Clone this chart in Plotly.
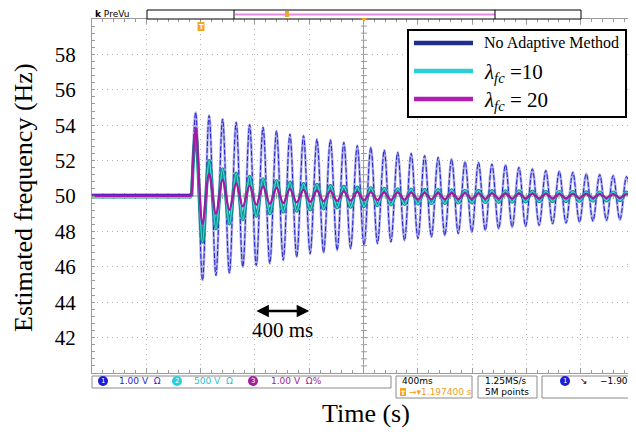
import plotly.graph_objects as go

# ---------------- data ----------------
pre_t = [0.0, 0.734]          # flat part before the disturbance (s)
step_t = 0.734                # instant of the frequency step (s)

# instants of successive extrema after the step (s): peak, trough, peak, ...
ext_t = [0.764, 0.814, 0.863, 0.913, 0.962, 1.012, 1.062, 1.111, 1.161, 1.210,
         1.260, 1.310, 1.359, 1.409, 1.458, 1.508, 1.558, 1.607, 1.657, 1.706,
         1.756, 1.806, 1.855, 1.905, 1.954, 2.004, 2.054, 2.103, 2.153, 2.202,
         2.252, 2.302, 2.351, 2.401, 2.450, 2.500, 2.550, 2.599, 2.649, 2.698,
         2.748, 2.798, 2.847, 2.897, 2.946, 2.996, 3.046, 3.095, 3.145, 3.194,
         3.244, 3.294, 3.343, 3.393, 3.442, 3.492, 3.542, 3.591, 3.641, 3.690,
         3.740, 3.790, 3.839, 3.889, 3.938, 3.988]

# No Adaptive Method (Hz)
blue_pre = 50.05
blue_peaks = [54.72, 54.54, 54.35, 54.16, 54.03, 53.88, 53.69, 53.50, 53.41, 53.22,
              53.17, 53.03, 52.85, 52.75, 52.60, 52.47, 52.41, 52.28, 52.19, 52.09,
              51.94, 51.90, 51.81, 51.76, 51.62, 51.53, 51.44, 51.40, 51.34, 51.25,
              51.21, 51.15, 51.10]
blue_troughs = [45.24, 45.52, 45.65, 45.99, 46.08, 46.18, 46.37, 46.55, 46.74, 46.80,
                46.93, 47.02, 47.21, 47.31, 47.40, 47.49, 47.60, 47.68, 47.77, 47.87,
                47.96, 48.06, 48.15, 48.24, 48.28, 48.34, 48.43, 48.47, 48.52, 48.58,
                48.62, 48.66, 48.72]

# lambda_fc = 10 (Hz)
cyan_pre = 49.96
cyan_peaks = [53.55, 52.00, 51.53, 51.29, 51.10, 50.97, 50.87, 50.78, 50.69, 50.65,
              50.58, 50.54, 50.50, 50.46, 50.42, 50.40, 50.38, 50.37, 50.35, 50.34,
              50.32, 50.31, 50.30, 50.29, 50.28, 50.27, 50.26, 50.25, 50.24, 50.23,
              50.22, 50.22, 50.21]
cyan_troughs = [47.40, 48.15, 48.43, 48.66, 48.85, 49.00, 49.09, 49.15, 49.22, 49.28,
                49.34, 49.37, 49.41, 49.46, 49.50, 49.53, 49.55, 49.57, 49.59, 49.61,
                49.62, 49.64, 49.65, 49.66, 49.67, 49.68, 49.69, 49.70, 49.71, 49.72,
                49.73, 49.74, 49.75]

# lambda_fc = 20 (Hz)
mag_pre = 50.02
mag_peaks = [53.85, 51.25, 50.91, 50.72, 50.59, 50.54, 50.46, 50.40, 50.35, 50.31,
             50.28, 50.26, 50.24, 50.22, 50.21, 50.20, 50.19, 50.18, 50.17, 50.17,
             50.16, 50.15, 50.15, 50.14, 50.14, 50.13, 50.13, 50.12, 50.12, 50.12,
             50.11, 50.11, 50.11]
mag_troughs = [48.43, 49.00, 49.22, 49.41, 49.50, 49.56, 49.60, 49.64, 49.67, 49.70,
               49.72, 49.74, 49.76, 49.77, 49.78, 49.79, 49.80, 49.81, 49.82, 49.83,
               49.83, 49.84, 49.85, 49.85, 49.86, 49.86, 49.87, 49.87, 49.88, 49.88,
               49.89, 49.89, 49.90]

y_ticks = [42, 44, 46, 48, 50, 52, 54, 56, 58]
legend_labels = ["No Adaptive Method",
                 "<i>λ</i><sub><i>fc</i></sub> =10",
                 "<i>λ</i><sub><i>fc</i></sub> = 20"]

# ---------------- helpers ----------------
PAGE_W, PAGE_H = 636, 432
OFF = 8                       # default page margin around the figure
L, R, T, B = 92, 635, 19, 373  # plot area in page pixels


def px(x):
    return (x - L) / (R - L)


def py(y):
    return (B - y) / (B - T)


def interleave(peaks, troughs):
    out = []
    for p, q in zip(peaks, troughs):
        out += [p, q]
    return out


SERIF = "Liberation Serif, Times New Roman, serif"
SANS = "DejaVu Sans, sans-serif"

fig = go.Figure()


def add_series(pre, peaks, troughs, styles):
    post_x = [step_t] + ext_t
    post_y = [pre] + interleave(peaks, troughs)
    for color, width, dash in styles:
        fig.add_trace(go.Scatter(x=pre_t, y=[pre, pre], mode="lines",
                                 line=dict(color=color, width=max(width, 2.5)),
                                 showlegend=False, hoverinfo="skip"))
        fig.add_trace(go.Scatter(x=post_x, y=post_y, mode="lines",
                                 line=dict(color=color, width=width, shape="spline",
                                           dash=dash),
                                 showlegend=False, hoverinfo="skip"))


add_series(blue_pre, blue_peaks, blue_troughs,
           [("#b0b0e6", 2.6, "solid"), ("#2020d0", 1.0, "5px,2px")])
add_series(cyan_pre, cyan_peaks, cyan_troughs,
           [("#0e8a8a", 3.4, "solid"), ("#3fd6dc", 1.5, "solid")])
add_series(mag_pre, mag_peaks, mag_troughs,
           [("#a517a5", 2.3, "solid")])

shapes = []
annots = []


def note(x, y, text, size, color="black", family=SANS, xanchor="left", angle=0):
    annots.append(dict(xref="paper", yref="paper", x=x, y=y, text=text, showarrow=False,
                       xanchor=xanchor, yanchor="middle", textangle=angle,
                       font=dict(family=family, size=size, color=color)))


# center crosshair
shapes.append(dict(type="line", xref="x", yref="paper", x0=2.0, x1=2.0, y0=0, y1=1,
                   line=dict(color="#9a9a9a", width=1), layer="below"))
shapes.append(dict(type="line", xref="paper", yref="y", x0=0, x1=1, y0=50, y1=50,
                   line=dict(color="#9a9a9a", width=1), layer="below"))
for i in range(1, 50):
    yv = 40 + 0.4 * i
    shapes.append(dict(type="line", xref="paper", yref="y", x0=px(361), x1=px(367),
                       y0=yv, y1=yv, line=dict(color="#9a9a9a", width=1), layer="below"))
for i in range(1, 50):
    xv = 0.08 * i
    shapes.append(dict(type="line", xref="x", yref="paper", x0=xv, x1=xv,
                       y0=py(199), y1=py(193), line=dict(color="#9a9a9a", width=1),
                       layer="below"))

# legend box
shapes.append(dict(type="rect", xref="paper", yref="paper", x0=px(408), x1=px(626),
                   y0=py(117), y1=py(30), line=dict(color="black", width=2),
                   fillcolor="white", layer="above"))
leg_colors = ["#1f2d8c", "#2ccfd6", "#b21cb2"]
leg_y = [43, 71, 99]
for c, yy in zip(leg_colors, leg_y):
    shapes.append(dict(type="line", xref="paper", yref="paper", x0=px(414), x1=px(473),
                       y0=py(yy), y1=py(yy), line=dict(color=c, width=4.5), layer="above"))
for yy, lab, fs in zip(leg_y, legend_labels, [16, 21, 21]):
    note(px(482), py(yy + (0 if fs == 16 else 2)), lab, fs, family=SERIF)

# 400 ms arrow and label
annots.append(dict(xref="x", yref="y", axref="x", ayref="y", x=1.6, y=43.5, ax=1.2, ay=43.5,
                   text="", showarrow=True, arrowhead=2, startarrowhead=2,
                   arrowside="end+start", arrowwidth=2.5, arrowsize=1, startarrowsize=1,
                   arrowcolor="black"))
annots.append(dict(xref="x", yref="y", x=1.405, y=42.45, text="400 ms", showarrow=False,
                   xanchor="center", yanchor="middle",
                   font=dict(family=SERIF, size=21, color="black")))

# axis titles
note(px(24), py(197), "Estimated frequency (Hz)", 26, family=SERIF, xanchor="center", angle=-90)
note(px(366), py(413), "Time (s)", 26, family=SERIF, xanchor="center")

# ---- top "PreVu" bar ----
note(px(93), py(14), "<b>k</b> PreVu", 9)
shapes.append(dict(type="rect", xref="paper", yref="paper", x0=px(147), x1=px(581),
                   y0=py(19), y1=py(10), line=dict(color="black", width=1),
                   fillcolor="white"))
shapes.append(dict(type="line", xref="paper", yref="paper", x0=px(235), x1=px(495),
                   y0=py(14.5), y1=py(14.5), line=dict(color="#e88ae8", width=2)))
for xv in (234, 495):
    shapes.append(dict(type="line", xref="paper", yref="paper", x0=px(xv), x1=px(xv),
                       y0=py(19), y1=py(10), line=dict(color="black", width=1)))
shapes.append(dict(type="rect", xref="paper", yref="paper", x0=px(285), x1=px(289),
                   y0=py(17), y1=py(11), line=dict(width=0), fillcolor="#f5a623"))
shapes.append(dict(type="path", xref="paper", yref="paper",
                   path=f"M {px(361)},{py(18)} L {px(367)},{py(18)} L {px(364)},{py(22)} Z",
                   line=dict(width=0), fillcolor="#f5a623"))
shapes.append(dict(type="rect", xref="paper", yref="paper", x0=px(197.5), x1=px(204.5),
                   y0=py(31), y1=py(22), line=dict(width=0), fillcolor="#f5a623"))
note(px(201), py(26.5), "<b>T</b>", 7, color="white", xanchor="center")

# right side channel marker
note(px(631), py(264), "←", 9, color="#2020e0", xanchor="center")

# ---- bottom status bar ----
R1, R2 = 381, 392
for x0, x1, y1 in [(92, 391, 388), (396, 472, 398), (478, 537, 398), (542, 640, 398)]:
    shapes.append(dict(type="rect", xref="paper", yref="paper", x0=px(x0), x1=px(x1),
                       y0=py(y1), y1=py(376), line=dict(color="#8a8a8a", width=1),
                       fillcolor="white"))


def chan(cx, num, fill, label, lx, color):
    shapes.append(dict(type="circle", xref="paper", yref="paper",
                       x0=px(cx - 5), x1=px(cx + 5), y0=py(R1 + 5), y1=py(R1 - 5),
                       line=dict(width=0), fillcolor=fill))
    note(px(cx), py(R1), num, 7, color="white", xanchor="center")
    if label:
        note(px(lx), py(R1), label, 9, color=color)


chan(103, "1", "#1c1cdc", "1.00 V  Ω", 117, "#2424e0")
chan(177, "2", "#22d0dc", "500 V  Ω", 192, "#22c4d4")
chan(253, "3", "#a01ca0", "1.00 V  Ω%", 269, "#a01ca0")

note(px(400), py(R1), "400ms", 9)
shapes.append(dict(type="rect", xref="paper", yref="paper", x0=px(400), x1=px(406),
                   y0=py(R2 + 4), y1=py(R2 - 4), line=dict(width=0), fillcolor="#f5a623"))
note(px(403), py(R2), "<b>T</b>", 6, color="white", xanchor="center")
note(px(407), py(R2), "→▾1.197400 s", 9, color="#f0a020")
note(px(483), py(R1), "1.25MS/s", 9)
note(px(483), py(R2), "5M points", 9)
chan(565, "1", "#1c1cdc", "", 0, "black")
note(px(578), py(R1), "↘", 9)
note(px(598), py(R1), "−1.90 V", 9)

GRID = "#b4b4b4"
fig.update_layout(
    width=PAGE_W - OFF, height=PAGE_H - OFF,
    margin=dict(l=L - OFF, r=PAGE_W - R, t=T - OFF, b=PAGE_H - B),
    paper_bgcolor="white", plot_bgcolor="white",
    showlegend=False,
    shapes=shapes, annotations=annots,
    xaxis=dict(range=[0, 4], tickmode="linear", tick0=0, dtick=0.4,
               showticklabels=False, showgrid=True, gridcolor=GRID, gridwidth=1,
               griddash="1px,4px", zeroline=False, automargin=False,
               showline=True, linecolor="#9a9a9a", linewidth=1, mirror="allticks",
               ticks="inside", ticklen=5, tickcolor="#9a9a9a",
               minor=dict(tickmode="linear", tick0=0, dtick=0.08, ticks="inside",
                          ticklen=3, tickcolor="#9a9a9a", showgrid=False)),
    yaxis=dict(range=[40, 60], tickmode="array", tickvals=y_ticks,
               ticktext=[str(v) for v in y_ticks],
               tickfont=dict(family=SERIF, size=21, color="black"),
               ticklabelstandoff=11, automargin=False,
               showgrid=True, gridcolor=GRID, gridwidth=1, griddash="1px,4px",
               zeroline=False, showline=True, linecolor="#9a9a9a", linewidth=1,
               ticks="inside", ticklen=0, tickcolor="#9a9a9a",
               minor=dict(tickmode="linear", tick0=40, dtick=0.4, ticks="inside",
                          ticklen=3, tickcolor="#9a9a9a", showgrid=False)),
)

fig.write_html("out.html")
